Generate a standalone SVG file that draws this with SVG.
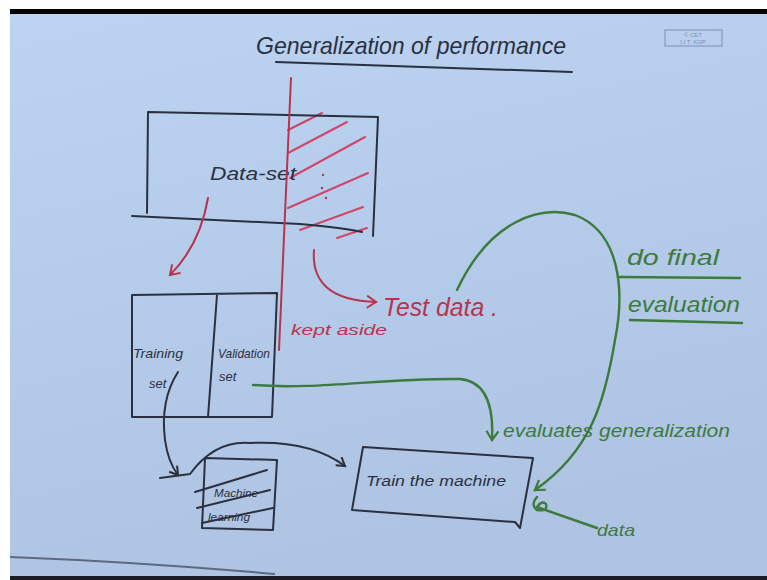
<svg xmlns="http://www.w3.org/2000/svg" width="767" height="580" viewBox="0 0 767 580">
<defs>
<linearGradient id="bg" x1="0" y1="0" x2="0.3" y2="1">
<stop offset="0" stop-color="#bcd3f2"/>
<stop offset="1" stop-color="#aec4e2"/>
</linearGradient>
<marker id="ab" markerWidth="12" markerHeight="12" refX="9" refY="6" orient="auto" markerUnits="userSpaceOnUse">
<path d="M1,1 L9,6 L1,11" fill="none" stroke="#2b3040" stroke-width="2"/>
</marker>
<marker id="ar" markerWidth="14" markerHeight="14" refX="10" refY="7" orient="auto" markerUnits="userSpaceOnUse">
<path d="M1,1 L10,7 L1,13" fill="none" stroke="#b8344e" stroke-width="2"/>
</marker>
<marker id="ag" markerWidth="14" markerHeight="14" refX="10" refY="7" orient="auto" markerUnits="userSpaceOnUse">
<path d="M1,1 L10,7 L1,13" fill="none" stroke="#3d7a3d" stroke-width="2.2"/>
</marker>
</defs>
<style>
.ink{fill:none;stroke:#2b3040;stroke-width:2;stroke-linecap:round;stroke-linejoin:round}
.red{fill:none;stroke:#b8344e;stroke-width:2;stroke-linecap:round}
.hatch{fill:none;stroke:#d0456a;stroke-width:2;stroke-linecap:round}
.grn{fill:none;stroke:#3d7a3d;stroke-width:2.4;stroke-linecap:round;stroke-linejoin:round}
.tb{font-family:"Liberation Sans",sans-serif;font-style:italic;fill:#2b3040}
.tr{font-family:"Liberation Sans",sans-serif;font-style:italic;fill:#b8344e}
.tg{font-family:"Liberation Sans",sans-serif;font-style:italic;fill:#3d7a3d}
</style>
<rect x="0" y="0" width="767" height="580" fill="#ffffff"/>
<rect x="10" y="13" width="757" height="563" fill="url(#bg)"/>
<rect x="10" y="9" width="757" height="5" fill="#000000"/>
<rect x="10" y="576" width="757" height="4" fill="#1a1d26"/>
<path d="M10,557 Q140,562 275,574" fill="none" stroke="#5c6a80" stroke-width="2"/>

<g id="title">
<text class="tb" x="256" y="54" font-size="24" textLength="310" lengthAdjust="spacingAndGlyphs">Generalization of performance</text>
<path class="ink" d="M276,62 L572,72"/>
</g>

<g id="stamp">
<rect x="665" y="30" width="57" height="16" fill="none" stroke="#8fa6c8" stroke-width="1.5"/>
<text x="693" y="37" font-family="Liberation Sans,sans-serif" font-size="6" fill="#7a90b4" text-anchor="middle">© CET</text>
<text x="693" y="44" font-family="Liberation Sans,sans-serif" font-size="6" fill="#7a90b4" text-anchor="middle">I.I.T. KGP</text>
</g>

<g id="dataset">
<path class="hatch" d="M288,130 L322,113 M288,153 L347,122 M290,178 L365,137 M288,208 L368,173 M300,230 L363,207 M337,238 L367,228"/>
<circle cx="323" cy="175" r="1.2" fill="#b8344e"/>
<circle cx="322" cy="188" r="1.2" fill="#b8344e"/>
<circle cx="326" cy="198" r="1.2" fill="#b8344e"/>
<path class="ink" d="M148,112 L378,117 L373,236 M148,112 L147,213 M132,216 L300,224 Q345,228 362,232"/>
<text class="tb" x="210" y="180" font-size="19" textLength="86" lengthAdjust="spacingAndGlyphs">Data-set</text>
</g>

<g id="split-line">
<path class="red" d="M291,78 L279,350"/>
</g>

<g id="testdata">
<text class="tr" x="383" y="316" font-size="25" textLength="115" lengthAdjust="spacingAndGlyphs">Test data .</text>
<text class="tr" x="291" y="335" font-size="15" textLength="96" lengthAdjust="spacingAndGlyphs">kept aside</text>
</g>

<g id="trainval">
<path class="ink" d="M132,295 L277,293 L272,417 L132,417 Z M217,295 L208,417"/>
<text class="tb" x="133" y="358" font-size="13" textLength="50" lengthAdjust="spacingAndGlyphs">Training</text>
<text class="tb" x="149" y="388" font-size="13">set</text>
<text class="tb" x="218" y="358" font-size="13" textLength="52" lengthAdjust="spacingAndGlyphs">Validation</text>
<text class="tb" x="219" y="381" font-size="13">set</text>
</g>

<g id="machine">
<path class="ink" d="M205,458 L277,460 L273,530 L202,528 Z"/>
<path class="ink" d="M195,492 L267,470 M197,508 L270,490 M202,523 L273,508"/>
<text class="tb" x="214" y="497" font-size="11" textLength="44" lengthAdjust="spacingAndGlyphs">Machine</text>
<text class="tb" x="208" y="521" font-size="11" textLength="42" lengthAdjust="spacingAndGlyphs">learning</text>
</g>

<g id="train">
<path class="ink" d="M363,447 L533,458 L520,528 L515,522 L352,510 Z"/>
<text class="tb" x="366" y="486" font-size="15" textLength="140" lengthAdjust="spacingAndGlyphs">Train the machine</text>
</g>

<g id="final-eval">
<text class="tg" x="627" y="265" font-size="22" textLength="92" lengthAdjust="spacingAndGlyphs">do final</text>
<path class="grn" d="M620,277 L740,278"/>
<text class="tg" x="628" y="312" font-size="22" textLength="112" lengthAdjust="spacingAndGlyphs">evaluation</text>
<path class="grn" d="M630,320 L742,323"/>
</g>

<g id="evalgen">
<text class="tg" x="503" y="437" font-size="19" textLength="227" lengthAdjust="spacingAndGlyphs">evaluates generalization</text>
</g>

<g id="data-note">
<path class="grn" d="M537,497 Q530,505 537,510 Q548,512 546,504 Q542,500 537,507 L597,528"/>
<text class="tg" x="597" y="536" font-size="17" textLength="38" lengthAdjust="spacingAndGlyphs">data</text>
</g>

<g id="connectors">
<path class="red" d="M208,198 Q200,245 170,275" marker-end="url(#ar)"/>
<path class="red" d="M314,250 Q310,300 376,302" marker-end="url(#ar)"/>
<path class="grn" d="M253,385 C320,390 380,378 460,379 Q495,382 492,440" marker-end="url(#ag)"/>
<path class="grn" d="M457,290 C490,220 540,205 575,215 C620,232 625,290 615,340 C605,400 592,450 535,490" marker-end="url(#ag)"/>
<path class="ink" d="M178,372 Q160,400 165,440 Q168,462 178,475" marker-end="url(#ab)"/>
<path class="ink" d="M160,478 L190,474 Q215,440 250,443 Q310,440 345,466" marker-end="url(#ab)"/>
</g>
</svg>
